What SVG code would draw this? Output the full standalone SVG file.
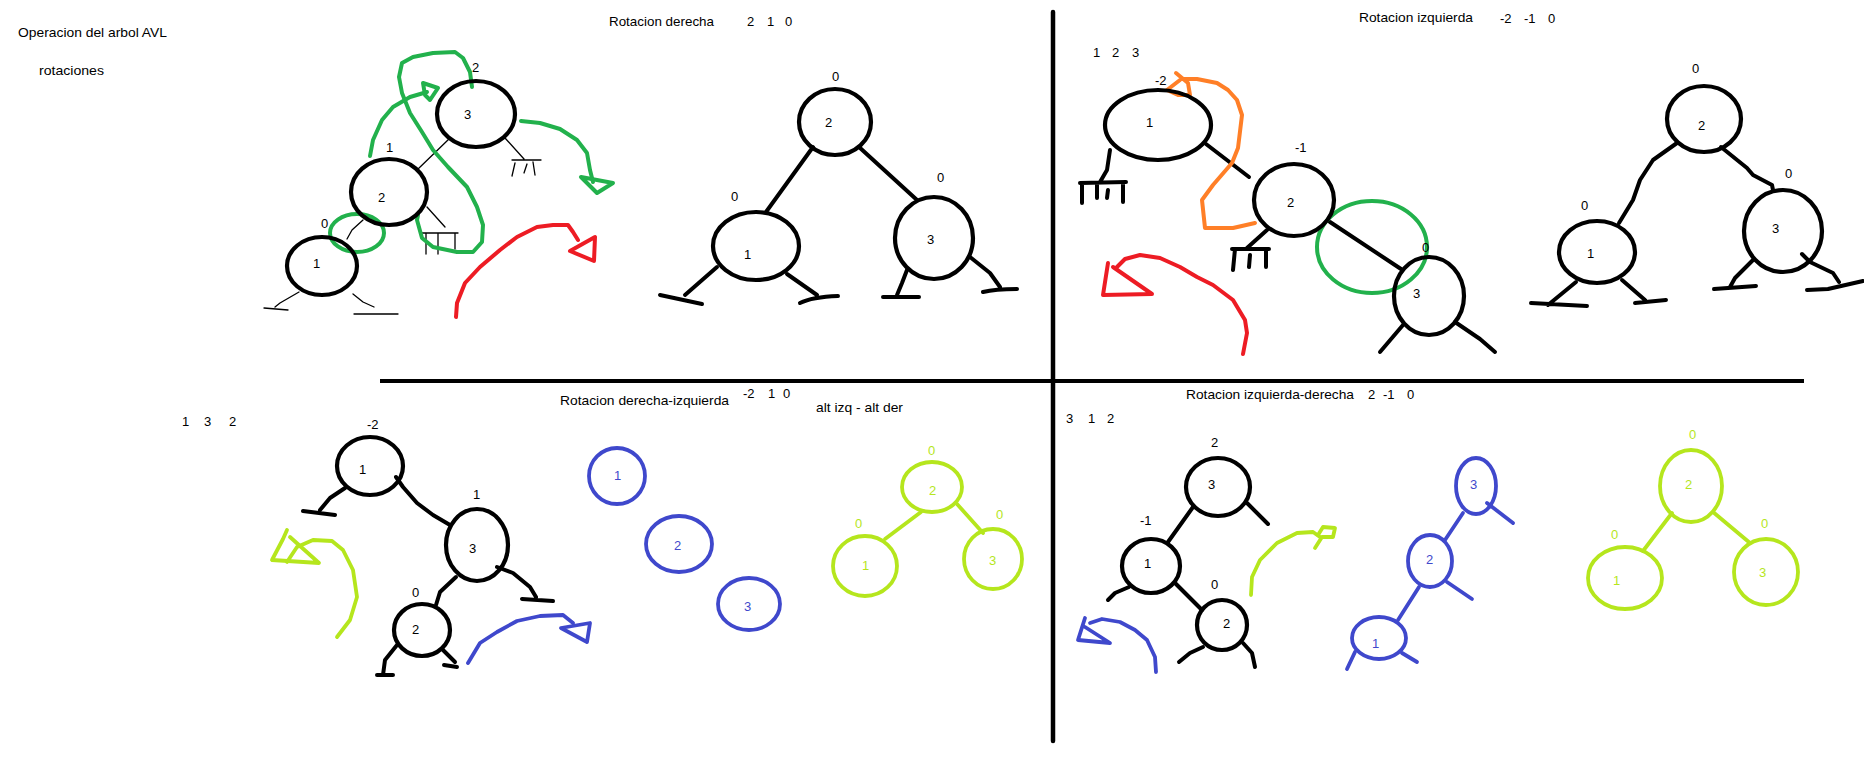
<svg xmlns="http://www.w3.org/2000/svg" width="1864" height="761" viewBox="0 0 1864 761">
<style>
text{font-family:"Liberation Sans",Arial,sans-serif;font-size:13px;fill:#000}
.nd{fill:none;stroke:#000;stroke-width:4.2}
.ed{fill:none;stroke:#000;stroke-width:4;stroke-linecap:round;stroke-linejoin:round}
.th{fill:none;stroke:#000;stroke-width:1.3;stroke-linecap:round;stroke-linejoin:round}
.bl{fill:none;stroke:#3f48cc;stroke-width:3.8;stroke-linecap:round;stroke-linejoin:round}
.lm{fill:none;stroke:#b5e61d;stroke-width:3.8;stroke-linecap:round;stroke-linejoin:round}
.gr{fill:none;stroke:#22b14c;stroke-width:4;stroke-linecap:round;stroke-linejoin:round}
.rd{fill:none;stroke:#ed1c24;stroke-width:4;stroke-linecap:round;stroke-linejoin:round}
.or{fill:none;stroke:#ff7f27;stroke-width:4;stroke-linecap:round;stroke-linejoin:round}
text.b{fill:#3f48cc}
text.l{fill:#b5e61d}
</style>
<rect width="1864" height="761" fill="#fff"/>

<g id="frame">
<line x1="1053" y1="12" x2="1053" y2="741" stroke="#000" stroke-width="4.5" stroke-linecap="round"/>
<line x1="380" y1="381" x2="1804" y2="381" stroke="#000" stroke-width="4"/>
</g>

<g id="titles">
<text x="18" y="37" textLength="149" lengthAdjust="spacingAndGlyphs">Operacion del arbol AVL</text>
<text x="39" y="75" textLength="65" lengthAdjust="spacingAndGlyphs">rotaciones</text>
<text x="609" y="26" textLength="105" lengthAdjust="spacingAndGlyphs">Rotacion derecha</text>
<text x="747" y="26">2</text><text x="767" y="26">1</text><text x="785" y="26">0</text>
<text x="1359" y="22" textLength="114" lengthAdjust="spacingAndGlyphs">Rotacion izquierda</text>
<text x="1500" y="23">-2</text><text x="1524" y="23">-1</text><text x="1548" y="23">0</text>
<text x="1093" y="57">1</text><text x="1112" y="57">2</text><text x="1132" y="57">3</text>
<text x="560" y="405" textLength="169" lengthAdjust="spacingAndGlyphs">Rotacion derecha-izquierda</text>
<text x="743" y="398">-2</text><text x="768" y="398">1</text><text x="783" y="398">0</text>
<text x="816" y="412" textLength="87" lengthAdjust="spacingAndGlyphs">alt izq - alt der</text>
<text x="182" y="426">1</text><text x="204" y="426">3</text><text x="229" y="426">2</text>
<text x="1186" y="399" textLength="168" lengthAdjust="spacingAndGlyphs">Rotacion izquierda-derecha</text>
<text x="1368" y="399">2</text><text x="1383" y="399">-1</text><text x="1407" y="399">0</text>
<text x="1066" y="423">3</text><text x="1088" y="423">1</text><text x="1107" y="423">2</text>
</g>

<g id="connectors">
<!-- tree 1 thin -->
<path class="th" d="M449,139 L418,169"/>
<path class="th" d="M363,220 L352,230 L347,239"/>
<path class="th" d="M505,138 L524,159 M512,160 L541,160 M515,163 L512,176 M527,164 L524,173 M533,162 L535,175"/>
<path class="th" d="M427,207 L445,227 M422,233 L458,233 M426,233 L426,254 M438,233 L438,254 M455,233 L455,249"/>
<path class="th" d="M299,292 L280,303 L275,307 M264,308 L288,310"/>
<path class="th" d="M353,294 L363,302 L374,307 M354,314 L398,314"/>
<!-- tree 2 -->
<path class="ed" d="M813,147 L766,212"/>
<path class="ed" d="M859,147 L917,200"/>
<path class="ed" d="M717,267 L685,295 M660,295 L702,304"/>
<path class="ed" d="M787,274 L817,295 M800,303 Q812,297 838,296"/>
<path class="ed" d="M907,270 L902,283 L897,295 M883,297 L919,297"/>
<path class="ed" d="M970,257 L990,273 L1000,287 M983,292 Q995,289 1017,289"/>
<!-- tree 3 -->
<path class="ed" d="M1206,144 L1249,177"/>
<path class="ed" d="M1110,150 L1107,170 L1100,182 M1080,183 L1126,182 M1082,183 L1082,203 M1097,183 L1097,198 M1108,190 L1107,198 M1123,183 L1123,202"/>
<path class="ed" d="M1267,230 L1247,248 M1232,249 L1269,249 M1235,249 L1233,270 M1250,255 L1249,267 M1266,249 L1266,267"/>
<path class="ed" d="M1330,222 L1401,269"/>
<path class="ed" d="M1403,325 L1380,352"/>
<path class="ed" d="M1455,322 L1480,339 L1495,352"/>
<!-- tree 4 -->
<path class="ed" d="M1677,143 L1653,160 L1640,180 L1633,200 L1619,223"/>
<path class="ed" d="M1721,147 L1747,168 L1753,175 L1772,185 L1773,190"/>
<path class="ed" d="M1576,282 L1548,305 M1531,303 L1587,306"/>
<path class="ed" d="M1622,280 L1645,300 M1635,303 L1666,300"/>
<path class="ed" d="M1753,260 L1735,278 L1730,287 M1714,289 L1756,286"/>
<path class="ed" d="M1802,254 L1810,262 L1833,273 L1839,282 M1807,290 L1828,289 L1863,281"/>
<!-- tree 5 -->
<path class="ed" d="M345,488 L330,498 L320,510 M303,511 L335,515"/>
<path class="ed" d="M396,477 L403,487 L417,503 L433,515 L450,525"/>
<path class="ed" d="M497,567 L513,573 L530,587 L536,597 M522,599 L553,601"/>
<path class="ed" d="M456,577 L440,592 L436,605"/>
<path class="ed" d="M397,645 L385,660 L383,675 M377,675 L393,675"/>
<path class="ed" d="M443,650 L455,662 M444,665 L457,667"/>
<!-- lime tree middle -->
<path class="lm" d="M921,512 L885,539"/>
<path class="lm" d="M957,504 L983,533"/>
<!-- tree 6 black -->
<path class="ed" d="M1247,503 L1268,524"/>
<path class="ed" d="M1193,507 L1168,542"/>
<path class="ed" d="M1129,587 L1115,593 L1108,600"/>
<path class="ed" d="M1175,583 L1202,610"/>
<path class="ed" d="M1203,647 L1190,653 L1179,662"/>
<path class="ed" d="M1243,643 L1252,653 L1255,667"/>
<!-- blue tree -->
<path class="bl" d="M1487,503 L1513,523"/>
<path class="bl" d="M1463,513 L1445,540"/>
<path class="bl" d="M1447,582 L1472,599"/>
<path class="bl" d="M1419,587 L1398,620"/>
<path class="bl" d="M1355,652 L1347,669"/>
<path class="bl" d="M1402,653 L1417,662"/>
<!-- lime tree right -->
<path class="lm" d="M1672,513 L1643,551"/>
<path class="lm" d="M1713,512 L1750,543"/>
</g>

<g id="annotations">
<!-- tree 1 green loop -->
<path class="gr" d="M472,87 L470,72 L463,58 L455,52 L433,53 L413,57 L402,63 L399,77 L402,93 L410,113 L422,132 L433,150 L448,167 L467,187 L477,207 L483,225 L482,242 L473,252 L457,252 L433,247 L422,238 L417,220 L418,215"/>
<path class="gr" d="M370,156 L373,140 L382,120 L393,107 L410,97 L427,92"/>
<path class="gr" d="M425,95 L423,83 L438,88 L430,100 Z"/>
<path class="gr" d="M521,121 L540,123 L560,129 L577,140 L587,153 L590,170 L593,182"/>
<path class="gr" d="M581,177 L613,183 L597,193 Z"/>
<ellipse class="gr" cx="357" cy="233" rx="27" ry="19"/>
<path class="rd" d="M456,317 L457,303 L465,283 L480,267 L500,250 L517,237 L537,227 L553,225 L568,225 L573,232 L578,240"/>
<path class="rd" d="M570,251 L595,237 L594,261 Z"/>
<!-- tree 3 -->
<ellipse class="gr" cx="1372" cy="247" rx="55" ry="46"/>
<path class="or" d="M1255,223 L1233,228 L1205,228 L1202,200 L1213,185 L1232,163 L1238,148 L1242,115 L1237,100 L1228,90 L1217,83 L1197,79 L1182,79"/>
<path class="or" d="M1176,73 L1188,83 L1190,95 L1178,95 L1167,90 L1180,80"/>
<path class="rd" d="M1243,354 L1247,333 L1245,320 L1233,300 L1213,285 L1197,277 L1180,267 L1160,258 L1140,255 L1125,259 L1117,267"/>
<path class="rd" d="M1108,263 L1103,295 L1152,294 L1113,267"/>
<!-- tree 5 -->
<path class="lm" d="M337,637 L350,620 L357,597 L353,570 L343,550 L332,541 L313,540 L297,547 L287,562"/>
<path class="lm" d="M287,530 L283,539 L272,560 L319,563 L290,537"/>
<path class="bl" d="M468,663 L480,643 L497,632 L517,621 L540,616 L563,615 L573,623"/>
<path class="bl" d="M561,628 L590,623 L587,642 Z"/>
<!-- tree 6 -->
<path class="bl" d="M1156,672 L1155,657 L1147,640 L1135,630 L1120,622 L1102,619 L1090,623"/>
<path class="bl" d="M1085,618 L1078,640 L1110,643 L1085,627"/>
<path class="lm" d="M1251,595 L1252,577 L1260,560 L1277,543 L1297,533 L1313,532 L1320,537"/>
<path class="lm" d="M1315,548 L1322,537 L1333,537 L1335,528 L1323,527 L1318,535"/>
</g>

<!-- Tree 1 nodes -->
<g id="t1-n3"><ellipse class="nd" cx="476" cy="114" rx="39" ry="33"/><text x="464" y="119">3</text><text x="472" y="72">2</text></g>
<g id="t1-n2"><ellipse class="nd" cx="389" cy="192" rx="38" ry="33"/><text x="378" y="202">2</text><text x="386" y="152">1</text></g>
<g id="t1-n1"><ellipse class="nd" cx="322" cy="266" rx="35" ry="29"/><text x="313" y="268">1</text><text x="321" y="228">0</text></g>

<!-- Tree 2 nodes -->
<g id="t2-n2"><ellipse class="nd" cx="835" cy="122" rx="36" ry="33"/><text x="825" y="127">2</text><text x="832" y="81">0</text></g>
<g id="t2-n1"><ellipse class="nd" cx="756" cy="246" rx="43" ry="34"/><text x="744" y="259">1</text><text x="731" y="201">0</text></g>
<g id="t2-n3"><ellipse class="nd" cx="934" cy="238" rx="39" ry="41"/><text x="927" y="244">3</text><text x="937" y="182">0</text></g>

<!-- Tree 3 nodes -->
<g id="t3-n1"><ellipse class="nd" cx="1158" cy="125" rx="53" ry="35"/><text x="1146" y="127">1</text><text x="1155" y="85">-2</text></g>
<g id="t3-n2"><ellipse class="nd" cx="1294" cy="200" rx="40" ry="36"/><text x="1287" y="207">2</text><text x="1295" y="152">-1</text></g>
<g id="t3-n3"><ellipse class="nd" cx="1429" cy="296" rx="35" ry="39"/><text x="1413" y="298">3</text><text x="1422" y="252">0</text></g>

<!-- Tree 4 nodes -->
<g id="t4-n2"><ellipse class="nd" cx="1704" cy="119" rx="37" ry="33"/><text x="1698" y="130">2</text><text x="1692" y="73">0</text></g>
<g id="t4-n1"><ellipse class="nd" cx="1597" cy="252" rx="38" ry="31"/><text x="1587" y="258">1</text><text x="1581" y="210">0</text></g>
<g id="t4-n3"><ellipse class="nd" cx="1783" cy="231" rx="39" ry="41"/><text x="1772" y="233">3</text><text x="1785" y="178">0</text></g>

<!-- Tree 5 nodes -->
<g id="t5-n1"><ellipse class="nd" cx="370" cy="466" rx="33" ry="29"/><text x="359" y="474">1</text><text x="367" y="429">-2</text></g>
<g id="t5-n3"><ellipse class="nd" cx="477" cy="545" rx="31" ry="36"/><text x="469" y="553">3</text><text x="473" y="499">1</text></g>
<g id="t5-n2"><ellipse class="nd" cx="422" cy="630" rx="28" ry="26"/><text x="412" y="634">2</text><text x="412" y="597">0</text></g>

<!-- Blue loose nodes -->
<g id="b-n1"><ellipse class="bl" cx="617" cy="476" rx="28" ry="28"/><text class="b" x="614" y="480">1</text></g>
<g id="b-n2"><ellipse class="bl" cx="679" cy="544" rx="33" ry="28"/><text class="b" x="674" y="550">2</text></g>
<g id="b-n3"><ellipse class="bl" cx="749" cy="604" rx="31" ry="26"/><text class="b" x="744" y="611">3</text></g>

<!-- Lime tree middle -->
<g id="l1-n2"><ellipse class="lm" cx="932" cy="487" rx="30" ry="25"/><text class="l" x="929" y="495">2</text><text class="l" x="928" y="455">0</text></g>
<g id="l1-n1"><ellipse class="lm" cx="865" cy="566" rx="32" ry="30"/><text class="l" x="862" y="570">1</text><text class="l" x="855" y="528">0</text></g>
<g id="l1-n3"><ellipse class="lm" cx="993" cy="559" rx="29" ry="30"/><text class="l" x="989" y="565">3</text><text class="l" x="996" y="519">0</text></g>

<!-- Tree 6 nodes -->
<g id="t6-n3"><ellipse class="nd" cx="1218" cy="487" rx="32" ry="29"/><text x="1208" y="489">3</text><text x="1211" y="447">2</text></g>
<g id="t6-n1"><ellipse class="nd" cx="1151" cy="566" rx="29" ry="27"/><text x="1144" y="568">1</text><text x="1140" y="525">-1</text></g>
<g id="t6-n2"><ellipse class="nd" cx="1222" cy="625" rx="25" ry="25"/><text x="1223" y="628">2</text><text x="1211" y="589">0</text></g>

<!-- Blue tree -->
<g id="bt-n3"><ellipse class="bl" cx="1476" cy="486" rx="20" ry="28"/><text class="b" x="1470" y="489">3</text></g>
<g id="bt-n2"><ellipse class="bl" cx="1430" cy="561" rx="22" ry="26"/><text class="b" x="1426" y="564">2</text></g>
<g id="bt-n1"><ellipse class="bl" cx="1379" cy="638" rx="27" ry="21"/><text class="b" x="1372" y="648">1</text></g>

<!-- Lime tree right -->
<g id="l2-n2"><ellipse class="lm" cx="1691" cy="486" rx="31" ry="36"/><text class="l" x="1685" y="489">2</text><text class="l" x="1689" y="439">0</text></g>
<g id="l2-n1"><ellipse class="lm" cx="1625" cy="578" rx="37" ry="31"/><text class="l" x="1613" y="585">1</text><text class="l" x="1611" y="539">0</text></g>
<g id="l2-n3"><ellipse class="lm" cx="1766" cy="572" rx="32" ry="33"/><text class="l" x="1759" y="577">3</text><text class="l" x="1761" y="528">0</text></g>
</svg>
